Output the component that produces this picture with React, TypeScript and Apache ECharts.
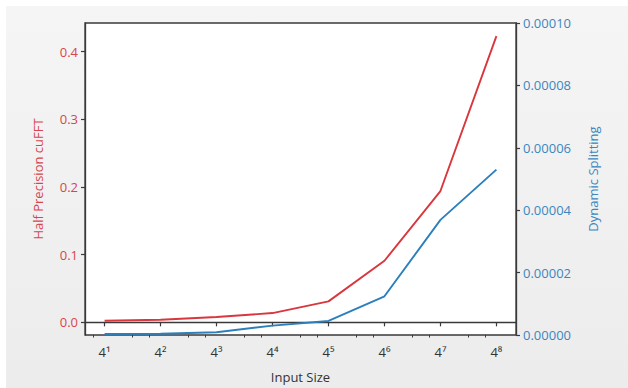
import React, { useEffect, useRef } from "react";
import * as echarts from "echarts";

const exponents = [1, 2, 3, 4, 5, 6, 7, 8];
const superscripts = ["¹", "²", "³", "⁴", "⁵", "⁶", "⁷", "⁸"];
const halfPrecision = [0.0024, 0.0038, 0.0078, 0.0137, 0.031, 0.091, 0.194, 0.423];
const dynamicSplitting = [3e-7, 4e-7, 9e-7, 3.0e-6, 4.5e-6, 1.24e-5, 3.69e-5, 5.3e-5];
const leftTicks = [0, 0.1, 0.2, 0.3, 0.4];
const minorTicks = [0, 1, 2, 3, 4, 5, 6, 7, 8]
  .flatMap((n) => [n + Math.log(2) / Math.log(4), n + Math.log(3) / Math.log(4)])
  .filter((v) => v > 0.65 && v < 8.35);

const RED = "#d9363e";
const BLUE = "#2a7fbc";
const RED_TEXT = "#d6464f";
const BLUE_TEXT = "#3a87c0";
const FONT = "Open Sans";

export default function App() {
  const ref = useRef<HTMLDivElement>(null);
  useEffect(() => {
    document.body.style.margin = "0";
    const chart = echarts.init(ref.current!, undefined, { renderer: "svg" });
    chart.setOption({
      animation: false,
      backgroundColor: "transparent",
      textStyle: { fontFamily: FONT },
      grid: {
        left: 85,
        top: 23,
        right: 112,
        bottom: 52,
        show: true,
        backgroundColor: "#ffffff",
        borderColor: "#3a3a3a",
        borderWidth: 1.3,
      },
      xAxis: [
        {
          type: "value",
          min: 0.65,
          max: 8.35,
          name: "Input Size",
          nameLocation: "middle",
          nameGap: 35,
          nameTextStyle: { color: "#333", fontSize: 13, fontFamily: FONT },
          axisLine: { show: true, lineStyle: { color: "#3a3a3a", width: 1.3 } },
          axisTick: { show: true, length: 4, customValues: exponents, lineStyle: { color: "#3a3a3a", width: 1.2 } },
          axisLabel: {
            customValues: exponents,
            color: "#333",
            fontSize: 13,
            margin: 10,
            fontFamily: FONT,
            formatter: (v: number) => "4" + superscripts[Math.round(v) - 1],
          },
          splitLine: { show: false },
        },
        {
          type: "value",
          min: 0.65,
          max: 8.35,
          position: "bottom",
          axisLine: { show: false },
          axisTick: { show: true, length: 2.5, customValues: minorTicks, lineStyle: { color: "#3a3a3a", width: 1 } },
          axisLabel: { show: false },
          splitLine: { show: false },
        },
      ],
      yAxis: [
        {
          type: "value",
          min: -0.0187,
          max: 0.4423,
          position: "left",
          name: "Half Precision cuFFT",
          nameLocation: "middle",
          nameGap: 41,
          nameTextStyle: { color: RED_TEXT, fontSize: 13, fontFamily: FONT },
          axisLine: { show: true, lineStyle: { color: "#3a3a3a", width: 1.3 } },
          axisTick: { show: true, length: 4, customValues: leftTicks, lineStyle: { color: "#3a3a3a", width: 1.2 } },
          axisLabel: {
            customValues: leftTicks,
            color: RED_TEXT,
            fontSize: 13,
            margin: 7,
            fontFamily: FONT,
            formatter: (v: number) => v.toFixed(1),
          },
          splitLine: { show: false },
        },
        {
          type: "value",
          min: 0,
          max: 0.0001,
          interval: 0.00002,
          position: "right",
          name: "Dynamic Splitting",
          nameLocation: "middle",
          nameGap: 70,
          nameRotate: 90,
          nameTextStyle: { color: BLUE_TEXT, fontSize: 13, fontFamily: FONT },
          axisLine: { show: true, lineStyle: { color: "#3a3a3a", width: 1.3 } },
          axisTick: { show: true, length: 4, lineStyle: { color: "#3a3a3a", width: 1.2 } },
          axisLabel: {
            color: BLUE_TEXT,
            fontSize: 13,
            margin: 7,
            fontFamily: FONT,
            formatter: (v: number) => v.toFixed(5),
          },
          splitLine: { show: false },
        },
      ],
      series: [
        {
          type: "line",
          name: "Half Precision cuFFT",
          xAxisIndex: 0,
          yAxisIndex: 0,
          data: exponents.map((x, i) => [x, halfPrecision[i]]),
          showSymbol: false,
          lineStyle: { color: RED, width: 1.9 },
          itemStyle: { color: RED },
        },
        {
          type: "line",
          name: "Dynamic Splitting",
          xAxisIndex: 0,
          yAxisIndex: 1,
          data: exponents.map((x, i) => [x, dynamicSplitting[i]]),
          showSymbol: false,
          lineStyle: { color: BLUE, width: 1.9 },
          itemStyle: { color: BLUE },
        },
      ],
    });
    return () => chart.dispose();
  }, []);
  return (
    <div style={{ position: "relative", width: 628, height: 388, background: "#ffffff", overflow: "hidden" }}>
      <div
        style={{
          position: "absolute",
          left: 6,
          top: 6,
          right: 0,
          bottom: 0,
          background: "linear-gradient(180deg, #f5f5f5 0%, #ececec 100%)",
        }}
      />
      <div ref={ref} style={{ position: "absolute", left: 0, top: 0, width: 628, height: 388 }} />
    </div>
  );
}
